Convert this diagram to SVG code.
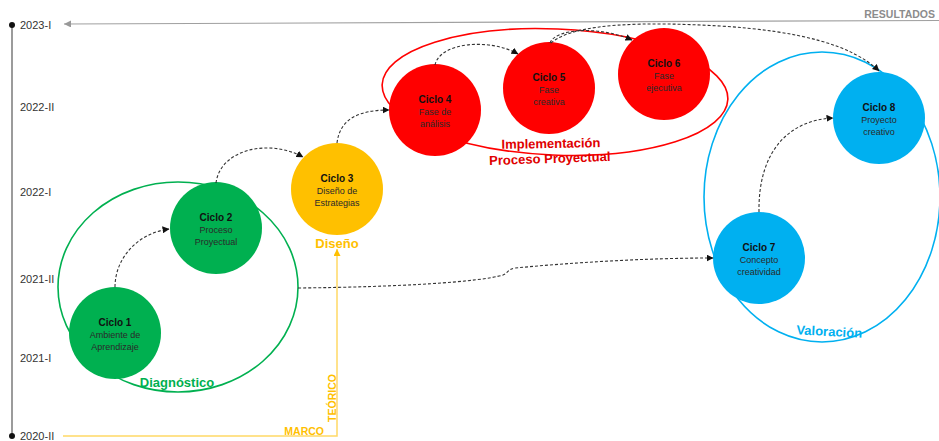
<svg xmlns="http://www.w3.org/2000/svg" width="939" height="441" viewBox="0 0 939 441">
<style>
.yr{font-family:"Liberation Sans",Arial,sans-serif;font-size:11px;fill:#333}
.t1{font-family:"Liberation Sans",Arial,sans-serif;font-size:10px;font-weight:bold;fill:#111;text-anchor:middle}
.t2{font-family:"Liberation Sans",Arial,sans-serif;font-size:9px;fill:#2a2a2a;text-anchor:middle}
.lbl{font-family:"Liberation Sans",Arial,sans-serif;font-size:13px;font-weight:bold;text-anchor:middle}
.cap{font-family:"Liberation Sans",Arial,sans-serif;font-size:10.5px;font-weight:bold}
.con{fill:none;stroke:#333;stroke-width:1.1;stroke-dasharray:3 2;marker-end:url(#ah)}
.green{fill:#00B050}.yellow{fill:#FFC000}.red{fill:#FF0000}.blue{fill:#00B0F0}
</style>
<defs>
<marker id="ah" markerUnits="userSpaceOnUse" markerWidth="7" markerHeight="7" refX="6.5" refY="3.5" orient="auto"><path d="M0,0 L7,3.5 L0,7 z" fill="#111"/></marker>
<marker id="ahg" markerUnits="userSpaceOnUse" markerWidth="8" markerHeight="8" refX="7" refY="3.5" orient="auto"><path d="M0,0 L7,3.5 L0,7 z" fill="#999"/></marker>
<marker id="ahy" markerUnits="userSpaceOnUse" markerWidth="8" markerHeight="8" refX="7" refY="3.5" orient="auto"><path d="M0,0 L7,3.5 L0,7 z" fill="#FFC000"/></marker>
</defs>
<rect width="939" height="441" fill="#fff"/>

<g id="timeline">
<line x1="12" y1="25" x2="12" y2="436" stroke="#7a7a7a" stroke-width="1.5"/>
<circle cx="12" cy="25" r="3" fill="#111"/>
<circle cx="12" cy="436" r="3" fill="#111"/>
<text class="yr" x="20" y="29">2023-I</text>
<text class="yr" x="20" y="111">2022-II</text>
<text class="yr" x="20" y="196">2022-I</text>
<text class="yr" x="20" y="283">2021-II</text>
<text class="yr" x="20" y="362">2021-I</text>
<text class="yr" x="20" y="440">2020-II</text>
</g>

<g id="resultados">
<line x1="939" y1="20.5" x2="64" y2="24" stroke="#a0a0a0" stroke-width="1.2" marker-end="url(#ahg)"/>
<text class="cap" x="935" y="18" text-anchor="end" fill="#8c8c8c">RESULTADOS</text>
</g>

<g id="marco-teorico">
<polyline points="63,436 337,436 337,249" fill="none" stroke="#FFD966" stroke-width="1.5" marker-end="url(#ahy)"/>
<text class="cap" x="324" y="435" text-anchor="end" fill="#FFC000">MARCO</text>
<text class="cap" transform="translate(335.5,398) rotate(-90)" text-anchor="middle" fill="#FFC000">TEÓRICO</text>
</g>

<g id="fase-diagnostico">
<ellipse cx="178" cy="287" rx="120" ry="105" fill="none" stroke="#00B050" stroke-width="1.6"/>
<text class="lbl" x="177" y="387" fill="#00B050">Diagnóstico</text>
</g>

<g id="fase-diseno">
<text class="lbl" x="337" y="248" fill="#FFC000">Diseño</text>
</g>

<g id="fase-implementacion">
<ellipse cx="555" cy="92" rx="173" ry="63" transform="rotate(2.5 555 92)" fill="none" stroke="#FF0000" stroke-width="1.6"/>
<text class="lbl" x="551" y="148" fill="#E00000" transform="rotate(-1 551 148)">Implementación</text>
<text class="lbl" x="550" y="163" fill="#E00000" transform="rotate(-2 550 163)">Proceso Proyectual</text>
</g>

<g id="fase-valoracion">
<ellipse cx="822" cy="197" rx="118" ry="145" fill="none" stroke="#00B0F0" stroke-width="1.6"/>
<text class="lbl" x="829" y="336" fill="#00B0F0" transform="rotate(3 829 336)">Valoración</text>
</g>

<g id="ciclo1">
<circle class="green" cx="115" cy="333" r="46"/>
<text class="t1" x="115" y="325.5">Ciclo 1</text>
<text class="t2" x="115" y="337.5">Ambiente de</text>
<text class="t2" x="115" y="349.5">Aprendizaje</text>
</g>
<g id="ciclo2">
<circle class="green" cx="216" cy="228" r="46"/>
<text class="t1" x="216" y="220.5">Ciclo 2</text>
<text class="t2" x="216" y="232.5">Proceso</text>
<text class="t2" x="216" y="244.5">Proyectual</text>
</g>
<g id="ciclo3">
<circle class="yellow" cx="337" cy="189" r="46"/>
<text class="t1" x="337" y="181.5">Ciclo 3</text>
<text class="t2" x="337" y="193.5">Diseño de</text>
<text class="t2" x="337" y="205.5">Estrategias</text>
</g>
<g id="ciclo4">
<circle class="red" cx="435" cy="110" r="46"/>
<text class="t1" x="435" y="102.5">Ciclo 4</text>
<text class="t2" x="435" y="114.5">Fase de</text>
<text class="t2" x="435" y="126.5">análisis</text>
</g>
<g id="ciclo5">
<circle class="red" cx="549" cy="88" r="46"/>
<text class="t1" x="549" y="80.5">Ciclo 5</text>
<text class="t2" x="549" y="92.5">Fase</text>
<text class="t2" x="549" y="104.5">creativa</text>
</g>
<g id="ciclo6">
<circle class="red" cx="664" cy="74" r="46"/>
<text class="t1" x="664" y="66.5">Ciclo 6</text>
<text class="t2" x="664" y="78.5">Fase</text>
<text class="t2" x="664" y="90.5">ejecutiva</text>
</g>
<g id="ciclo7">
<circle class="blue" cx="759" cy="258" r="46"/>
<text class="t1" x="759" y="250.5">Ciclo 7</text>
<text class="t2" x="759" y="262.5">Concepto</text>
<text class="t2" x="759" y="274.5">creatividad</text>
</g>
<g id="ciclo8">
<circle class="blue" cx="879" cy="118" r="46"/>
<text class="t1" x="879" y="110.5">Ciclo 8</text>
<text class="t2" x="879" y="122.5">Proyecto</text>
<text class="t2" x="879" y="134.5">creativo</text>
</g>

<g id="connectors">
<path class="con" d="M115,287 C115,258 138,233 169,229"/>
<path class="con" d="M216,183 C220,150 268,138 303,157"/>
<path class="con" d="M337,143 C340,118 360,110 389,110"/>
<path class="con" d="M435,65 C440,42 490,38 518,54"/>
<path class="con" d="M550,43 C556,28 600,26 632,40"/>
<path class="con" d="M551,43 C575,22 650,22 720,26 C800,31 852,45 879,71"/>
<path class="con" d="M298,288 C400,287 480,282 503,275 C508,273 508,269 515,268 C580,262 650,258 713,258"/>
<path class="con" d="M759,212 C758,150 790,120 833,118"/>
</g>
</svg>
